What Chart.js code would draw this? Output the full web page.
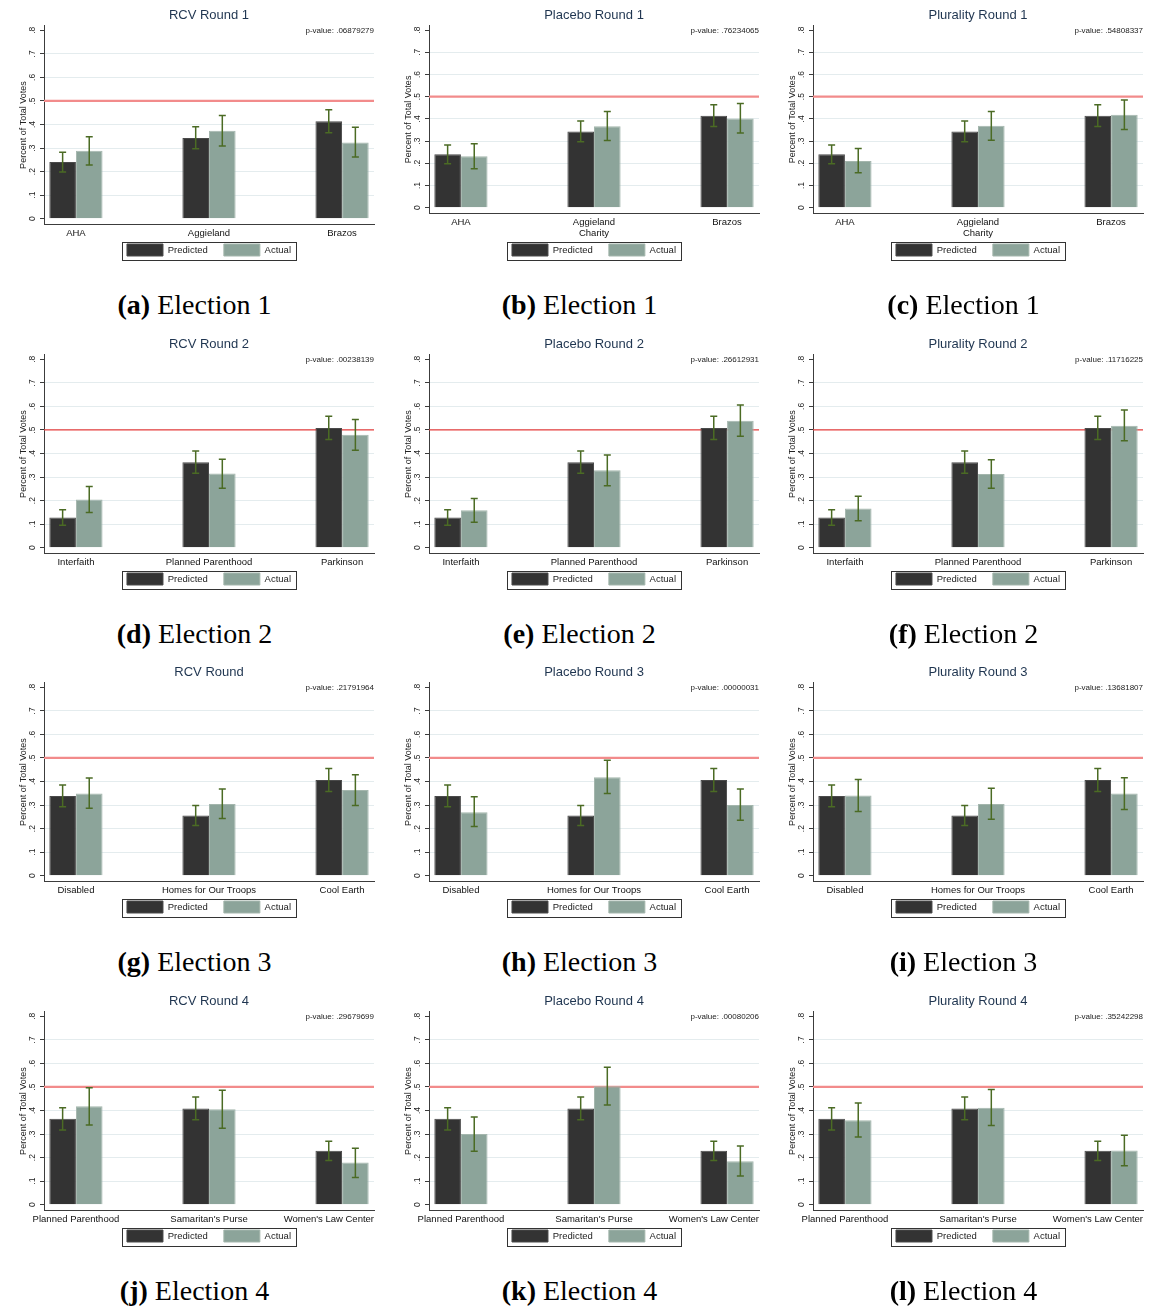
<!DOCTYPE html>
<html>
<head>
<meta charset="utf-8">
<title>Predicted vs actual vote shares</title>
<script src="https://cdn.jsdelivr.net/npm/chart.js@4.4.0/dist/chart.umd.min.js"></script>
<style>
  body { margin: 0; background: #fff; }
  #grid { position: relative; width: 1151px; height: 1311px; overflow: hidden; }
  .panel { position: absolute; width: 385px; height: 325px; }
  .panel canvas { position: absolute; left: 0; top: 0; }
  .caption {
    position: absolute; left: 2px; width: 385px; top: 289px; line-height: 32px;
    text-align: center; font-size: 28px; color: #000;
    font-family: "Liberation Serif", "Times New Roman", serif;
  }
</style>
</head>
<body>
<div id="grid"></div>
<script>
// shared y axis
const yTicks = [0, 0.1, 0.2, 0.3, 0.4, 0.5, 0.6, 0.7, 0.8];
const yTickLabels = ["0", ".1", ".2", ".3", ".4", ".5", ".6", ".7", ".8"];
const majority = 0.5;

// candidates per election
const cands1Rcv = ["AHA", "Aggieland", "Brazos"];
const cands1 = ["AHA", ["Aggieland", "Charity"], "Brazos"];
const cands2 = ["Interfaith", "Planned Parenthood", "Parkinson"];
const cands3 = ["Disabled", "Homes for Our Troops", "Cool Earth"];
const cands4 = ["Planned Parenthood", "Samaritan's Purse", "Women's Law Center"];

// election 1
const pred1 = [0.241, 0.343, 0.414];
const pred1Lo = [0.198, 0.297, 0.365];
const pred1Hi = [0.282, 0.390, 0.463];
const rcv1 = [0.289, 0.374, 0.324];
const rcv1Lo = [0.228, 0.309, 0.262];
const rcv1Hi = [0.348, 0.438, 0.388];
const placebo1 = [0.231, 0.367, 0.401];
const placebo1Lo = [0.175, 0.303, 0.336];
const placebo1Hi = [0.288, 0.433, 0.469];
const plural1 = [0.210, 0.369, 0.418];
const plural1Lo = [0.157, 0.304, 0.352];
const plural1Hi = [0.266, 0.433, 0.485];

// election 2
const pred2 = [0.128, 0.363, 0.508];
const pred2Lo = [0.095, 0.316, 0.460];
const pred2Hi = [0.161, 0.411, 0.558];
const rcv2 = [0.205, 0.315, 0.480];
const rcv2Lo = [0.149, 0.253, 0.414];
const rcv2Hi = [0.260, 0.376, 0.544];
const placebo2 = [0.159, 0.329, 0.539];
const placebo2Lo = [0.108, 0.263, 0.473];
const placebo2Hi = [0.209, 0.394, 0.606];
const plural2 = [0.167, 0.313, 0.518];
const plural2Lo = [0.115, 0.253, 0.454];
const plural2Hi = [0.219, 0.374, 0.585];

// election 3
const pred3 = [0.338, 0.256, 0.406];
const pred3Lo = [0.293, 0.213, 0.358];
const pred3Hi = [0.385, 0.298, 0.455];
const rcv3 = [0.349, 0.305, 0.364];
const rcv3Lo = [0.286, 0.243, 0.298];
const rcv3Hi = [0.415, 0.368, 0.429];
const placebo3 = [0.270, 0.418, 0.300];
const placebo3Lo = [0.209, 0.349, 0.236];
const placebo3Hi = [0.335, 0.490, 0.368];
const plural3 = [0.341, 0.305, 0.349];
const plural3Lo = [0.273, 0.240, 0.281];
const plural3Hi = [0.409, 0.371, 0.416];

// election 4
const pred4 = [0.365, 0.409, 0.229];
const pred4Lo = [0.317, 0.361, 0.188];
const pred4Hi = [0.412, 0.457, 0.270];
const rcv4 = [0.418, 0.405, 0.179];
const rcv4Lo = [0.338, 0.325, 0.116];
const rcv4Hi = [0.497, 0.486, 0.240];
const placebo4 = [0.300, 0.503, 0.185];
const placebo4Lo = [0.227, 0.423, 0.122];
const placebo4Hi = [0.372, 0.584, 0.249];
const plural4 = [0.359, 0.412, 0.230];
const plural4Lo = [0.288, 0.336, 0.165];
const plural4Hi = [0.432, 0.489, 0.295];

const titles = [
  "RCV Round 1", "Placebo Round 1", "Plurality Round 1",
  "RCV Round 2", "Placebo Round 2", "Plurality Round 2",
  "RCV Round", "Placebo Round 3", "Plurality Round 3",
  "RCV Round 4", "Placebo Round 4", "Plurality Round 4"
];
const pValues = [
  ".06879279", ".76234065", ".54808337",
  ".00238139", ".26612931", ".11716225",
  ".21791964", ".00000031", ".13681807",
  ".29679699", ".00080206", ".35242298"
];
const letters = ["(a)", "(b)", "(c)", "(d)", "(e)", "(f)", "(g)", "(h)", "(i)", "(j)", "(k)", "(l)"];
const captions = [
  "Election 1", "Election 1", "Election 1",
  "Election 2", "Election 2", "Election 2",
  "Election 3", "Election 3", "Election 3",
  "Election 4", "Election 4", "Election 4"
];

const panels = [
  { cats: cands1Rcv, pred: [pred1, pred1Lo, pred1Hi], act: [rcv1, rcv1Lo, rcv1Hi] },
  { cats: cands1, pred: [pred1, pred1Lo, pred1Hi], act: [placebo1, placebo1Lo, placebo1Hi] },
  { cats: cands1, pred: [pred1, pred1Lo, pred1Hi], act: [plural1, plural1Lo, plural1Hi] },
  { cats: cands2, pred: [pred2, pred2Lo, pred2Hi], act: [rcv2, rcv2Lo, rcv2Hi] },
  { cats: cands2, pred: [pred2, pred2Lo, pred2Hi], act: [placebo2, placebo2Lo, placebo2Hi] },
  { cats: cands2, pred: [pred2, pred2Lo, pred2Hi], act: [plural2, plural2Lo, plural2Hi] },
  { cats: cands3, pred: [pred3, pred3Lo, pred3Hi], act: [rcv3, rcv3Lo, rcv3Hi] },
  { cats: cands3, pred: [pred3, pred3Lo, pred3Hi], act: [placebo3, placebo3Lo, placebo3Hi] },
  { cats: cands3, pred: [pred3, pred3Lo, pred3Hi], act: [plural3, plural3Lo, plural3Hi] },
  { cats: cands4, pred: [pred4, pred4Lo, pred4Hi], act: [rcv4, rcv4Lo, rcv4Hi] },
  { cats: cands4, pred: [pred4, pred4Lo, pred4Hi], act: [placebo4, placebo4Lo, placebo4Hi] },
  { cats: cands4, pred: [pred4, pred4Lo, pred4Hi], act: [plural4, plural4Lo, plural4Hi] }
];

// layout of the 3 x 4 grid
const colX = [0, 385, 769];
const rowY = [0, 329, 657, 986];
// the 50% reference line is drawn thinner in the second row
const lineColors = ["#f28b8b", "#e8413f", "#f28b8b", "#f28b8b"];
const lineWidths = [2.2, 1.2, 2.2, 2.2];

Chart.defaults.font.family = '"Liberation Sans", Arial, sans-serif';
Chart.defaults.color = "#222";

const axisColor = "#3c3c3c";
const gridColor = "#e4ecee";

// horizontal line at the majority threshold, behind the bars
const majorityLine = {
  id: "majorityLine",
  beforeDatasetsDraw(chart, args, opts) {
    const { ctx, chartArea, scales: { y } } = chart;
    const py = y.getPixelForValue(majority);
    ctx.save();
    ctx.strokeStyle = opts.color;
    ctx.lineWidth = opts.width;
    ctx.beginPath();
    ctx.moveTo(chartArea.left, py);
    ctx.lineTo(chartArea.right, py);
    ctx.stroke();
    ctx.restore();
  }
};

// capped confidence intervals on every bar
const errorBars = {
  id: "errorBars",
  afterDatasetsDraw(chart) {
    const { ctx, scales: { y } } = chart;
    ctx.save();
    ctx.strokeStyle = "#4b6b24";
    ctx.lineWidth = 1.5;
    chart.data.datasets.forEach((ds, di) => {
      chart.getDatasetMeta(di).data.forEach((bar, i) => {
        const lo = y.getPixelForValue(ds.lo[i]);
        const hi = y.getPixelForValue(ds.hi[i]);
        ctx.beginPath();
        ctx.moveTo(bar.x, lo); ctx.lineTo(bar.x, hi);
        ctx.moveTo(bar.x - 3.5, lo); ctx.lineTo(bar.x + 3.5, lo);
        ctx.moveTo(bar.x - 3.5, hi); ctx.lineTo(bar.x + 3.5, hi);
        ctx.stroke();
      });
    });
    ctx.restore();
  }
};

// category names; the last one is pulled back inside the plot's right edge
const categoryLabels = {
  id: "categoryLabels",
  afterDraw(chart) {
    const { ctx, chartArea, scales: { x } } = chart;
    const font = Chart.helpers.toFont(x.options.ticks.font);
    ctx.save();
    ctx.font = font.string;
    ctx.fillStyle = "#111";
    ctx.textAlign = "center";
    ctx.textBaseline = "middle";
    x.ticks.forEach((t, i) => {
      const lines = [].concat(t.label);
      const w = Math.max(...lines.map(s => ctx.measureText(s).width));
      let px = x.getPixelForTick(i);
      px = Math.min(Math.max(px, 4 + w / 2), chartArea.right - w / 2);
      lines.forEach((s, j) => {
        ctx.fillText(s, px, chartArea.bottom + 3 + font.lineHeight * (j + 0.5));
      });
    });
    ctx.restore();
  }
};

// pull the legend up under the axis labels and frame it
const legendFrame = {
  id: "legendFrame",
  afterLayout(chart) {
    chart.legend.top -= 14;
    chart.legend.bottom -= 14;
  },
  afterDraw(chart) {
    const boxes = chart.legend.legendHitBoxes;
    if (!boxes || !boxes.length) return;
    const l = Math.min(...boxes.map(b => b.left)) - 4.5;
    const r = Math.max(...boxes.map(b => b.left + b.width)) + 5;
    const t = boxes[0].top - 2.5;
    const b = boxes[0].top + boxes[0].height + 3;
    const ctx = chart.ctx;
    ctx.save();
    ctx.strokeStyle = "#333";
    ctx.lineWidth = 1;
    ctx.strokeRect(Math.round(l) + 0.5, Math.round(t) + 0.5, Math.round(r - l), Math.round(b - t));
    ctx.restore();
  }
};

const pValueNote = {
  id: "pValueNote",
  afterDraw(chart, args, opts) {
    const { ctx, chartArea } = chart;
    ctx.save();
    ctx.font = '8px "Liberation Sans", Arial, sans-serif';
    ctx.fillStyle = "#222";
    ctx.textAlign = "right";
    ctx.textBaseline = "middle";
    ctx.fillText("p-value: " + opts.text, chartArea.right, chartArea.top + 5.5);
    ctx.restore();
  }
};

const grid = document.getElementById("grid");

panels.forEach((p, k) => {
  const row = Math.floor(k / 3), col = k % 3;
  const div = document.createElement("div");
  div.className = "panel";
  div.style.left = colX[col] + "px";
  div.style.top = rowY[row] + "px";
  const canvas = document.createElement("canvas");
  canvas.width = 385;
  canvas.height = 280;
  div.appendChild(canvas);
  const cap = document.createElement("div");
  cap.className = "caption";
  cap.innerHTML = "<b>" + letters[k] + "</b> " + captions[k];
  div.appendChild(cap);
  grid.appendChild(div);

  const cats = p.cats;
  const toPoints = vals => vals.map((v, i) => ({ x: i, y: v }));

  new Chart(canvas, {
    type: "bar",
    data: {
      datasets: [
        {
          label: "Predicted",
          data: toPoints(p.pred[0]),
          lo: p.pred[1], hi: p.pred[2],
          backgroundColor: "#333333",
          borderColor: "#4a4a4a",
          borderWidth: 1
        },
        {
          label: "Actual",
          data: toPoints(p.act[0]),
          lo: p.act[1], hi: p.act[2],
          backgroundColor: "#8ca49a",
          borderColor: "#a4b6ad",
          borderWidth: 1
        }
      ]
    },
    plugins: [majorityLine, errorBars, categoryLabels, legendFrame, pValueNote],
    options: {
      responsive: false,
      animation: false,
      events: [],
      categoryPercentage: 0.4,
      barPercentage: 1,
      layout: { padding: { left: 18, right: 11, top: 0, bottom: 0 } },
      plugins: {
        title: {
          display: true,
          text: titles[k],
          color: "#1f3550",
          fullSize: false,
          font: { size: 13, weight: "normal" },
          padding: { top: 8, bottom: 2 }
        },
        legend: {
          position: "bottom",
          fullSize: false,
          labels: { boxWidth: 36, boxHeight: 12, padding: 16, color: "#222", font: { size: 9.5 } }
        },
        tooltip: { enabled: false },
        majorityLine: { color: lineColors[row], width: lineWidths[row] },
        pValueNote: { text: pValues[k] }
      },
      scales: {
        x: {
          type: "linear",
          min: -0.24,
          max: 2.24,
          offset: false,
          afterBuildTicks: s => { s.ticks = cats.map((c, i) => ({ value: i })); },
          afterFit: s => { s.paddingLeft = 0; s.paddingRight = 0; },
          grid: { display: false, drawTicks: false },
          border: { display: true, color: axisColor, width: 1 },
          ticks: {
            autoSkip: false,
            maxRotation: 0,
            padding: 3,
            color: "rgba(0,0,0,0)",
            font: { size: 9.5 },
            callback: v => cats[v]
          }
        },
        y: {
          min: -0.025,
          max: 0.82,
          afterBuildTicks: s => { s.ticks = yTicks.map(v => ({ value: v })); },
          afterFit: s => { s.width = 26; },
          grid: {
            color: c => (c.index === 0 || c.index === yTicks.length - 1) ? "rgba(0,0,0,0)" : gridColor,
            tickColor: axisColor,
            tickLength: 4
          },
          border: { display: true, color: axisColor, width: 1 },
          title: {
            display: true,
            text: "Percent of Total Votes",
            color: "#222",
            font: { size: 9 },
            padding: { top: 0, bottom: 0 }
          },
          ticks: {
            autoSkip: false,
            minRotation: 90,
            maxRotation: 90,
            crossAlign: "center",
            padding: 3.5,
            color: "#222",
            font: { size: 8.5 },
            callback: (v, i) => yTickLabels[i]
          }
        }
      }
    }
  });
});
</script>
</body>
</html>
